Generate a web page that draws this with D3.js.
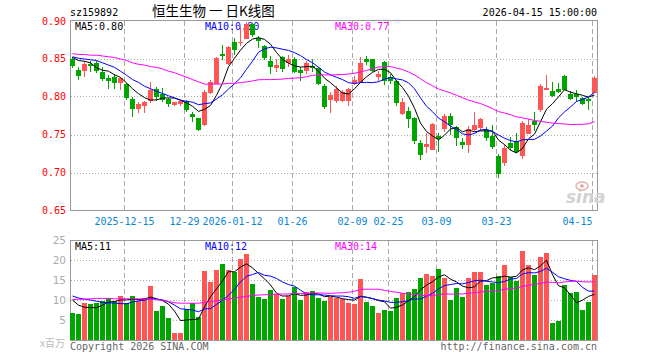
<!DOCTYPE html>
<html><head><meta charset="utf-8">
<script src="https://cdn.jsdelivr.net/npm/d3@7"></script>
<style>
html,body{margin:0;padding:0;background:#fff;}
svg{display:block;}
text{font-family:'DejaVu Sans Mono','Liberation Mono',monospace;font-size:10px;}
</style>
</head><body>
<svg id="c" width="660" height="360"></svg>
<script>
// ---------------- data ----------------
const dates = ['2025-12-02','2025-12-03','2025-12-04','2025-12-05','2025-12-08','2025-12-09','2025-12-10','2025-12-11','2025-12-12','2025-12-15',
'2025-12-16','2025-12-17','2025-12-18','2025-12-19','2025-12-22','2025-12-23','2025-12-24','2025-12-25','2025-12-26','2025-12-29',
'2025-12-30','2025-12-31','2026-01-05','2026-01-06','2026-01-07','2026-01-08','2026-01-09','2026-01-12','2026-01-13','2026-01-14',
'2026-01-15','2026-01-16','2026-01-19','2026-01-20','2026-01-21','2026-01-22','2026-01-23','2026-01-26','2026-01-27','2026-01-28',
'2026-01-29','2026-01-30','2026-02-02','2026-02-03','2026-02-04','2026-02-05','2026-02-06','2026-02-09','2026-02-10','2026-02-11',
'2026-02-12','2026-02-13','2026-02-24','2026-02-25','2026-02-26','2026-02-27','2026-03-02','2026-03-03','2026-03-04','2026-03-05',
'2026-03-06','2026-03-09','2026-03-10','2026-03-11','2026-03-12','2026-03-13','2026-03-16','2026-03-17','2026-03-18','2026-03-19',
'2026-03-20','2026-03-23','2026-03-24','2026-03-25','2026-03-26','2026-03-27','2026-03-30','2026-03-31','2026-04-01','2026-04-02',
'2026-04-03','2026-04-07','2026-04-08','2026-04-09','2026-04-10','2026-04-13','2026-04-14','2026-04-15'];

const open = [.850,.836,.835,.844,.845,.833,.825,.826,.820,.817, .798,.785,.789,.796,.811,.804,.797,.791,.792,.793,
 .778,.772,.764,.807,.819,.856,.845,.872,.872,.877, .896,.878,.867,.847,.840,.853,.846,.850,.835,.836,
 .841,.838,.815,.798,.796,.796,.796,.818,.821,.850, .850,.828,.846,.826,.821,.779,.782,.772,.740,.736,
 .732,.749,.759,.775,.760,.741,.738,.758,.761,.756, .749,.722,.715,.739,.742,.724,.753,.768,.784,.811,
 .808,.810,.827,.804,.804,.799,.797,.807];
const high = [.853,.839,.847,.848,.848,.840,.829,.830,.826,.819, .800,.793,.795,.820,.813,.812,.799,.794,.796,.796,
 .780,.773,.809,.822,.852,.868,.867,.878,.892,.899, .898,.880,.869,.854,.850,.854,.855,.852,.839,.847,
 .850,.839,.817,.806,.814,.809,.812,.828,.852,.854, .850,.834,.848,.830,.823,.799,.787,.774,.744,.753,
 .766,.753,.777,.779,.762,.746,.762,.780,.773,.761, .763,.725,.738,.747,.753,.768,.771,.780,.817,.829,
 .820,.818,.829,.808,.809,.800,.800,.828];
const low = [.840,.824,.827,.834,.833,.822,.812,.812,.811,.797, .775,.780,.780,.794,.796,.795,.788,.790,.790,.781,
 .768,.757,.763,.805,.818,.850,.844,.857,.869,.877, .880,.866,.850,.832,.834,.834,.841,.833,.822,.832,
 .834,.817,.786,.780,.794,.795,.790,.817,.820,.843, .834,.823,.817,.819,.790,.778,.761,.740,.718,.728,
 .731,.729,.755,.751,.737,.733,.727,.757,.756,.744, .733,.695,.711,.731,.727,.720,.752,.756,.781,.810,
 .801,.806,.810,.797,.795,.791,.784,.806];
const close = [.842,.829,.844,.842,.836,.825,.823,.820,.825,.800, .786,.791,.794,.809,.801,.798,.792,.793,.795,.784,
 .775,.758,.807,.820,.851,.855,.866,.863,.873,.896, .883,.875,.852,.841,.842,.838,.850,.834,.833,.845,
 .840,.818,.788,.803,.811,.807,.810,.823,.845,.848, .836,.830,.823,.823,.793,.794,.772,.744,.725,.738,
 .765,.746,.775,.765,.747,.738,.758,.763,.771,.747, .736,.700,.733,.734,.729,.766,.763,.764,.815,.812,
 .802,.808,.811,.799,.801,.792,.796,.825];
// volume, millions
const volume = [6.7,6.4,9.2,8.9,9.2,9.8,10.4,9.8,10.9,9.2, 10.9,9.8,10.4,13.4,7.2,8.4,5.4,1.7,1.7,7.7,
 9.2,5.7,17.2,14.4,17.4,19.0,17.5,17.0,20.2,21.5, 13.9,10.7,10.2,12.4,11.4,10.2,11.0,13.2,10.0,11.9,
 12.2,10.4,9.7,10.7,10.6,10.2,9.3,9.0,15.3,9.6, 8.6,6.8,7.5,7.3,10.6,11.7,12.0,12.8,15.6,16.5,
 16.0,17.8,15.6,10.1,13.1,10.8,15.6,17.0,17.0,13.8, 14.3,16.0,18.7,15.8,14.8,22.3,18.7,16.3,20.7,21.7,
 4.3,4.8,13.7,11.8,12.0,7.5,9.5,16.3];

// moving-average values at the start of the window (they depend on earlier history)
const priceMA5Head  = [.852,.848,.847,.845];
const priceMA10Head = [.853,.851,.850,.849,.848,.845,.842,.839,.834];
const priceMA30Head = [.857,.856,.856,.855,.855,.854,.853,.852,.850,.848,.845,.843,.842,.840,.839,.837,.834,.832,.829,.826,.823,.820,.817,.817,.817,.817,.818,.818,.819];
const volMA5Head  = [10.0,8.7,8.2,8.1];
const volMA10Head = [11.0,10.5,10.2,10.0,9.7,9.4,9.3,9.2,9.1];
const volMA30Head = [10.1,10.2,10.2,10.3,10.4,10.4,10.4,10.3,10.3,10.3,10.3,10.3,10.2,10.2,10.1,9.9,9.6,9.3,9.2,9.2,9.2,9.2,9.4,9.6,9.8,10.0,10.2,10.5,10.7];

const priceMALabels = ['MA5:0.80','MA10:0.80','MA30:0.77'];
const volMALabels = ['MA5:11','MA10:12','MA30:14'];

const priceTicks = [0.65,0.70,0.75,0.80,0.85,0.90];
const volTicks = [5,10,15,20,25];
const tickDates = ['2025-12-15','2025-12-29','2026-01-12','2026-01-26','2026-02-09','2026-02-25','2026-03-09','2026-03-23','2026-04-15'];
const tickLabels = ['2025-12-15','12-29','2026-01-12','01-26','02-09','02-25','03-09','03-23','04-15'];

const titleText = '恒生生物 一 日K线图';
const codeText = 'sz159892';
const timeText = '2026-04-15 15:00:00';

// ---------------- drawing ----------------
const RED = '#ff5555', GREEN = '#00a600', GRID = '#aaaaaa', FRAME = '#9a9a9a';
const maColors = ['#000000','#0000ff','#ff00ff'];
const svg = d3.select('#c');
const L = 70, R = 598;
const x = d3.scaleBand().domain(dates).range([L, R]).padding(0);
const bw = x.bandwidth() - 1;
const yP = d3.scaleLinear().domain([0.65, 0.90]).range([211, 21]);
const yV = d3.scaleLinear().domain([0, 25]).range([340, 240]);
const n = dates.length;

function movAvg(arr, k, head) {
  return arr.map((v, i) => i < k - 1 ? head[i] : d3.mean(arr.slice(i - k + 1, i + 1)));
}
const pMA = [movAvg(close,5,priceMA5Head), movAvg(close,10,priceMA10Head), movAvg(close,30,priceMA30Head)];
const vMA = [movAvg(volume,5,volMA5Head), movAvg(volume,10,volMA10Head), movAvg(volume,30,volMA30Head)];

const isUp = i => close[i] >= open[i];

// header
svg.append('text').attr('x', 70).attr('y', 16).attr('fill', '#000').text(codeText);
svg.append('text').attr('x', 152).attr('y', 16).attr('fill', '#000')
  .style('font-family', "'Noto Sans CJK SC','Noto Sans',sans-serif").style('font-size', '13.5px').text(titleText);
svg.append('text').attr('x', 597).attr('y', 16).attr('text-anchor', 'end').attr('fill', '#000').text(timeText);

function panel(top, bottom, yScale, gridVals) {
  const g = svg.append('g');
  // horizontal dotted grid
  g.selectAll('line.h').data(gridVals).join('line')
    .attr('x1', L + 0.5).attr('x2', R - 0.5)
    .attr('y1', d => Math.floor(yScale(d)) + 0.5).attr('y2', d => Math.floor(yScale(d)) + 0.5)
    .attr('stroke', GRID).attr('stroke-dasharray', '1,2').attr('shape-rendering', 'crispEdges');
  // vertical dashed lines
  g.selectAll('line.v').data(tickDates).join('line')
    .attr('x1', d => x(d) + 0.5).attr('x2', d => x(d) + 0.5)
    .attr('y1', top + 0.5).attr('y2', bottom + 0.5)
    .attr('stroke', GRID).attr('stroke-dasharray', '5,3').attr('shape-rendering', 'crispEdges');
  // frame
  g.append('rect').attr('x', L + 0.5).attr('y', top + 0.5).attr('width', R - L - 1).attr('height', bottom - top)
    .attr('fill', 'none').attr('stroke', FRAME).attr('shape-rendering', 'crispEdges');
  return g;
}

// price panel
panel(20, 210, yP, [0.70, 0.75, 0.80, 0.85]);
const yAxisP = d3.axisLeft(yP).tickValues(priceTicks).tickSize(0).tickPadding(4).tickFormat(d3.format('.2f'));
const gyP = svg.append('g').attr('transform', `translate(${L},0)`).call(yAxisP);
gyP.select('.domain').remove();
gyP.selectAll('text').attr('fill', '#ff0000').style('font-family', "'DejaVu Sans Mono',monospace").style('font-size', '10px');
gyP.selectAll('.tick').attr('transform', d => `translate(0,${yP(d) + (d === 0.90 ? 1 : 0)})`);

// legend price
[75, 205, 335].forEach((px, k) => {
  svg.append('text').attr('x', px).attr('y', 30).attr('fill', maColors[k]).text(priceMALabels[k]);
});

// candles
const cg = svg.append('g').attr('shape-rendering', 'crispEdges');
d3.range(n).forEach(i => {
  const col = isUp(i) ? RED : GREEN;
  const xi = x(dates[i]);
  const yh = Math.round(yP(high[i])), yl = Math.round(yP(low[i]));
  cg.append('line').attr('x1', xi + 2.5).attr('x2', xi + 2.5).attr('y1', yh).attr('y2', yl + 1).attr('stroke', col);
  const t = Math.round(yP(Math.max(open[i], close[i])));
  const b = Math.round(yP(Math.min(open[i], close[i])));
  cg.append('rect').attr('x', xi).attr('y', t).attr('width', bw).attr('height', Math.max(1, b - t + 1)).attr('fill', col);
});

// price MAs
pMA.forEach((arr, k) => {
  svg.append('path').datum(arr)
    .attr('d', d3.line().x((d, i) => x(dates[i]) + 2.5).y(d => yP(d)))
    .attr('fill', 'none').attr('stroke', maColors[k]).attr('stroke-width', 1);
});

// date labels
svg.selectAll('text.dl').data(tickDates).join('text').attr('class', 'dl')
  .attr('x', (d, i) => i === tickDates.length - 1 ? x(d) + 0.5 : x(d) + 0.5)
  .attr('y', 225)
  .attr('text-anchor', (d, i) => i === tickDates.length - 1 ? 'end' : 'middle')
  .attr('fill', '#0a87d8')
  .text((d, i) => tickLabels[i]);

// sina watermark
svg.append('text').attr('x', 566).attr('y', 203).text('sina')
  .style('font-family', "'DejaVu Sans',sans-serif").style('font-size', '17px').style('font-weight', 'bold').style('font-style', 'italic')
  .attr('fill', '#d2d2d2');
svg.append('ellipse').attr('cx', 582).attr('cy', 186).attr('rx', 6).attr('ry', 4)
  .attr('fill', 'none').attr('stroke', '#e4b4b4').attr('stroke-width', 1.5);
svg.append('circle').attr('cx', 582).attr('cy', 186).attr('r', 1.8).attr('fill', '#e4a0a0');

// volume panel
panel(240, 340, yV, [5, 10, 15, 20]);
const yAxisV = d3.axisLeft(yV).tickValues(volTicks).tickSize(0).tickPadding(4);
const gyV = svg.append('g').attr('transform', `translate(${L},0)`).call(yAxisV);
gyV.select('.domain').remove();
gyV.selectAll('text').attr('fill', '#aaaaaa').style('font-family', "'DejaVu Sans',sans-serif").style('font-size', '10.5px');
svg.append('text').attr('x', 65).attr('y', 347).attr('text-anchor', 'end').attr('fill', '#bbbbbb')
  .style('font-family', "'Noto Sans CJK SC',sans-serif").style('font-size', '10px').text('x百万');

[75, 205, 335].forEach((px, k) => {
  svg.append('text').attr('x', px).attr('y', 250).attr('fill', maColors[k]).text(volMALabels[k]);
});

const vg = svg.append('g').attr('shape-rendering', 'crispEdges');
vg.selectAll('rect').data(volume).join('rect')
  .attr('x', (d, i) => x(dates[i]))
  .attr('y', d => Math.round(yV(d)))
  .attr('width', bw)
  .attr('height', d => 340 - Math.round(yV(d)))
  .attr('fill', (d, i) => isUp(i) ? RED : GREEN);

vMA.forEach((arr, k) => {
  svg.append('path').datum(arr)
    .attr('d', d3.line().x((d, i) => x(dates[i]) + 2.5).y(d => yV(d)))
    .attr('fill', 'none').attr('stroke', maColors[k]).attr('stroke-width', 1);
});

// footer
svg.append('text').attr('x', 70).attr('y', 350).attr('fill', '#666').text('Copyright 2026 SINA.COM');
svg.append('text').attr('x', 597).attr('y', 350).attr('text-anchor', 'end').attr('fill', '#666').text('http://finance.sina.com.cn');
</script>
</body></html>
